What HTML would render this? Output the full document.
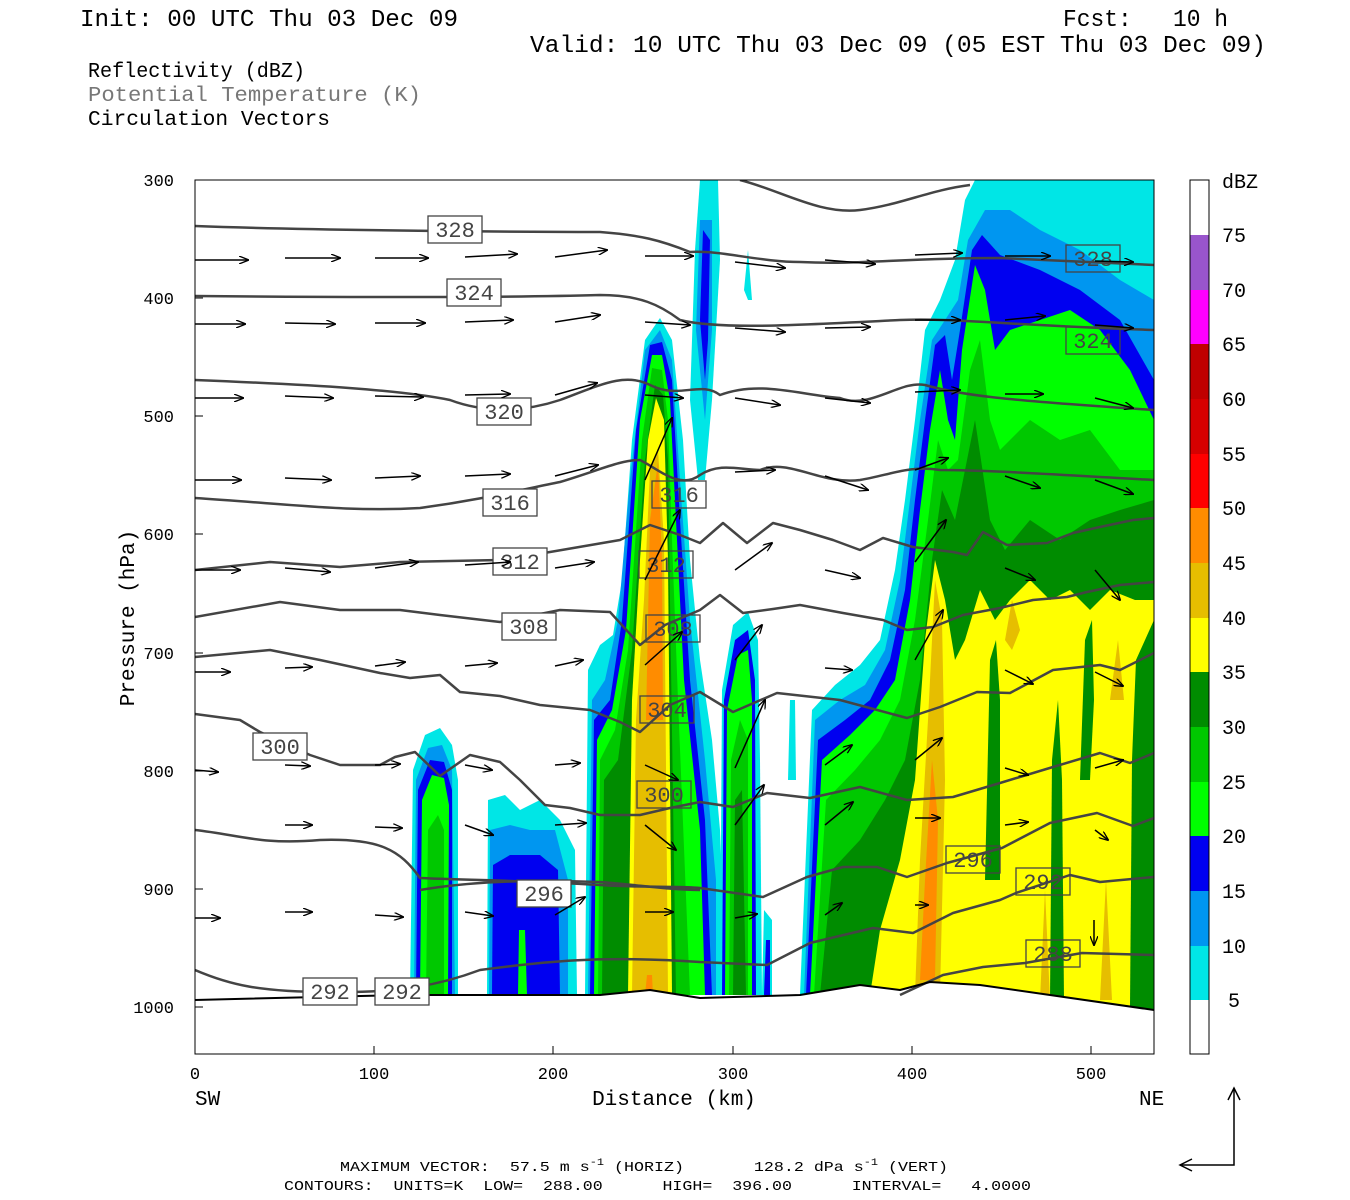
<!DOCTYPE html>
<html><head><meta charset="utf-8"><style>
html,body{margin:0;padding:0;background:#fff;}
svg{display:block;}
text{font-family:"Liberation Mono","DejaVu Sans Mono",monospace;white-space:pre;}
</style></head><body>
<svg width="1350" height="1200" viewBox="0 0 1350 1200" xmlns="http://www.w3.org/2000/svg" xml:space="preserve">
<defs>
<clipPath id="pc"><rect x="195" y="180" width="959" height="874"/></clipPath>
<marker id="ah" markerWidth="10" markerHeight="8" refX="9" refY="4" orient="auto" markerUnits="userSpaceOnUse"><path d="M0,0 L10,4 L0,8" fill="none" stroke="#000" stroke-width="1.3"/></marker>
</defs>
<!-- header -->
<text x="80" y="26" font-size="24" textLength="378" lengthAdjust="spacingAndGlyphs">Init: 00 UTC Thu 03 Dec 09</text>
<text x="1063" y="26" font-size="24" textLength="165" lengthAdjust="spacingAndGlyphs">Fcst:   10 h</text>
<text x="530" y="52" font-size="24" textLength="736" lengthAdjust="spacingAndGlyphs">Valid: 10 UTC Thu 03 Dec 09 (05 EST Thu 03 Dec 09)</text>
<text x="88" y="77" font-size="21" textLength="217" lengthAdjust="spacingAndGlyphs">Reflectivity (dBZ)</text>
<text x="88" y="101" font-size="21" fill="#777" textLength="333" lengthAdjust="spacingAndGlyphs">Potential Temperature (K)</text>
<text x="88" y="125" font-size="21" textLength="242" lengthAdjust="spacingAndGlyphs">Circulation Vectors</text>

<g clip-path="url(#pc)">
<!-- cell 1 -->
<path d="M410,995 L413,770 L425,735 L440,728 L452,745 L458,780 L458,995Z" fill="#00e6e6"/>
<path d="M414,995 L416,780 L428,748 L442,745 L452,770 L455,995Z" fill="#0096f0"/>
<path d="M416,995 L418,790 L430,760 L444,762 L452,790 L452,995Z" fill="#0000f0"/>
<path d="M420,995 L422,800 L432,775 L444,778 L449,805 L448,995Z" fill="#00ff00"/>
<path d="M426,995 L428,830 L438,815 L444,830 L444,995Z" fill="#00c800"/>
<!-- cell 2 -->
<path d="M487,995 L488,800 L505,795 L520,810 L540,800 L560,820 L575,850 L577,995Z" fill="#00e6e6"/>
<path d="M489,995 L490,830 L510,825 L530,830 L555,830 L568,880 L568,995Z" fill="#0096f0"/>
<path d="M492,995 L493,865 L510,855 L540,855 L558,870 L560,995Z" fill="#0000f0"/>
<path d="M518,995 L519,930 L525,930 L527,995Z" fill="#00ff00"/>
<!-- top narrow cell -->
<path d="M690,400 L695,250 L700,180 L718,180 L720,260 L712,400 L705,480 L698,480Z" fill="#00e6e6"/>
<path d="M696,330 L700,220 L712,220 L712,330 L705,420Z" fill="#0096f0"/>
<path d="M700,320 L703,230 L710,240 L708,340 L705,380Z" fill="#0000f0"/>
<path d="M744,290 L748,250 L752,300 L748,300Z" fill="#00e6e6"/>
<!-- main cell -->
<path d="M585,995 L588,670 L600,645 L613,635 L622,580 L632,440 L645,340 L660,318 L672,340 L683,440 L690,560 L700,660 L712,740 L720,830 L722,880 L722,995Z" fill="#00e6e6"/>
<path d="M588,995 L592,700 L605,680 L618,620 L630,480 L645,350 L660,330 L672,360 L680,480 L690,620 L705,760 L716,880 L716,995Z" fill="#0096f0"/>
<path d="M590,995 L594,720 L610,700 L622,620 L636,430 L650,345 L662,342 L672,380 L680,520 L690,680 L705,820 L712,995Z" fill="#0000f0"/>
<path d="M594,995 L597,740 L612,710 L626,630 L640,420 L652,355 L662,355 L670,400 L676,520 L684,680 L700,830 L705,995Z" fill="#00ff00"/>
<path d="M598,995 L600,760 L615,730 L628,650 L642,440 L652,368 L662,370 L668,420 L672,540 L678,700 L690,995Z" fill="#00c800"/>
<path d="M602,995 L604,780 L618,760 L632,650 L645,460 L655,385 L663,395 L668,460 L670,600 L676,995Z" fill="#008c00"/>
<path d="M628,995 L632,700 L640,560 L648,440 L656,398 L664,420 L668,560 L672,995Z" fill="#ffff00"/>
<path d="M632,995 L636,720 L644,600 L650,470 L658,450 L664,540 L668,995Z" fill="#e6be00"/>
<path d="M646,720 L650,520 L658,462 L662,560 L663,720Z" fill="#ff8c00"/>
<path d="M645,995 L647,975 L652,975 L653,995Z" fill="#ff8c00"/>
<!-- cell 4 -->
<path d="M720,995 L722,690 L733,625 L748,612 L758,640 L760,760 L762,995Z" fill="#00e6e6"/>
<path d="M722,995 L724,700 L735,640 L748,630 L755,680 L756,995Z" fill="#0000f0"/>
<path d="M725,995 L727,710 L738,655 L748,650 L752,700 L752,995Z" fill="#00ff00"/>
<path d="M729,995 L731,760 L740,720 L748,740 L748,995Z" fill="#00c800"/>
<path d="M733,995 L735,800 L742,790 L746,995Z" fill="#008c00"/>
<path d="M762,995 L764,910 L772,920 L772,995Z" fill="#00e6e6"/>
<path d="M764,995 L766,940 L770,940 L770,995Z" fill="#0000f0"/>
<path d="M788,780 L790,700 L795,700 L796,780Z" fill="#00e6e6"/>
<!-- right region -->
<path d="M800,995 L812,710 L835,685 L860,665 L880,640 L895,570 L905,500 L915,420 L925,330 L940,300 L955,260 L965,200 L975,180 L1154,180 L1154,1010Z" fill="#00e6e6"/>
<path d="M804,995 L815,720 L840,700 L865,685 L885,650 L900,580 L910,500 L920,420 L932,340 L945,320 L958,300 L968,240 L985,210 L1010,210 L1040,230 L1080,250 L1120,280 L1154,300 L1154,1010Z" fill="#0096f0"/>
<path d="M806,995 L818,740 L845,720 L870,700 L890,660 L905,590 L915,500 L925,420 L935,345 L945,335 L952,380 L960,330 L972,250 L982,235 L1000,255 L1040,270 L1080,290 L1120,320 L1154,380 L1154,1010Z" fill="#0000f0"/>
<path d="M810,995 L822,760 L850,735 L875,710 L895,680 L910,600 L920,510 L930,430 L940,370 L948,420 L955,440 L962,350 L975,265 L985,290 L995,350 L1010,330 L1040,320 L1070,310 L1100,330 L1130,370 L1154,420 L1154,1010Z" fill="#00ff00"/>
<path d="M814,995 L826,800 L855,770 L880,740 L900,700 L915,620 L928,520 L938,440 L948,470 L958,460 L970,370 L980,340 L990,420 L1000,450 L1030,420 L1060,440 L1090,430 L1120,470 L1154,470 L1154,1010Z" fill="#00c800"/>
<path d="M820,995 L832,870 L860,840 L885,800 L905,760 L920,680 L932,560 L942,490 L955,520 L965,470 L975,420 L990,520 L1005,550 L1030,520 L1060,540 L1090,520 L1120,510 L1154,500 L1154,1010Z" fill="#008c00"/>
<path d="M870,995 L880,930 L900,860 L915,780 L925,640 L935,560 L945,600 L955,660 L965,640 L980,590 L995,620 L1010,600 L1030,580 L1050,600 L1070,590 L1090,610 L1110,590 L1135,600 L1154,600 L1154,1010Z" fill="#ffff00"/>
<path d="M1130,1007 L1132,760 L1136,660 L1154,620 L1154,1010Z" fill="#008c00"/>
<path d="M1050,1000 L1052,760 L1058,700 L1062,780 L1064,1000Z" fill="#008c00"/>
<path d="M985,880 L990,660 L996,640 L1000,700 L1000,880Z" fill="#008c00"/>
<path d="M1080,780 L1085,640 L1092,620 L1094,700 L1090,780Z" fill="#008c00"/>
<path d="M915,995 L920,860 L928,720 L935,580 L942,620 L945,780 L940,995Z" fill="#e6be00"/>
<path d="M920,980 L925,880 L932,760 L938,820 L935,980Z" fill="#ff8c00"/>
<path d="M1040,1000 L1045,890 L1050,1000Z M1100,1000 L1106,880 L1112,1000Z M1005,640 L1012,600 L1020,630 L1012,650Z M1110,700 L1118,640 L1124,700Z" fill="#e6be00"/>
<!-- ground mask -->
<path d="M195,1000 L400,995 L600,995 L650,990 L700,998 L800,995 L860,985 L900,990 L930,982 L980,985 L1050,995 L1154,1010 L1154,1054 L195,1054Z" fill="#fff"/>
</g>

<!-- contours -->
<g fill="none" stroke="#444" stroke-width="2.5" stroke-linejoin="round" clip-path="url(#pc)">
<path d="M195,226 C300,230 500,232 600,232 C640,235 660,240 690,252 C720,250 760,262 800,262 C860,265 900,258 1000,258 C1080,262 1154,265 1154,265"/>
<path d="M740,180 C780,190 820,215 860,210 C900,205 930,190 970,185"/>
<path d="M195,296 C300,297 500,298 600,295 C640,295 660,305 680,320 C720,330 800,325 900,320 C960,318 1000,325 1154,330"/>
<path d="M195,380 C320,385 400,390 450,400 C490,415 530,410 560,400 C600,385 625,372 650,385 C680,400 700,380 720,395 C760,380 800,395 840,398 C870,410 900,380 925,385 C960,395 1000,400 1154,410"/>
<path d="M195,498 C300,505 350,512 420,508 C480,500 520,490 560,482 C600,470 620,460 640,460 C660,470 680,490 700,475 C720,462 740,470 760,470 C790,458 820,485 860,480 C890,475 910,465 940,470 C990,470 1060,475 1154,480"/>
<path d="M195,570 L270,562 L340,567 L400,562 L500,560 L550,552 L620,540 L650,525 L680,535 L700,543 L723,523 L747,543 L773,523 L800,530 L833,540 L860,550 L883,538 L913,547 L953,552 L967,555 L983,532 L1007,545 L1047,543 L1073,533 L1100,527 L1133,520 L1154,518"/>
<path d="M195,617 L280,602 L340,610 L400,610 L440,615 L500,622 L560,610 L610,612 L640,645 L665,625 L700,610 L720,595 L743,613 L773,609 L800,605 L843,613 L883,620 L907,630 L933,627 L963,615 L1000,608 L1033,600 L1067,597 L1087,592 L1120,585 L1154,582"/>
<path d="M195,657 L270,650 L320,660 L380,673 L410,678 L440,675 L460,692 L500,696 L540,705 L590,710 L620,722 L640,732 L670,705 L700,692 L733,712 L777,693 L840,700 L907,718 L940,707 L977,692 L1010,693 L1053,670 L1100,665 L1120,670 L1154,653"/>
<path d="M195,714 L240,720 L260,732 L310,755 L340,765 L380,765 L395,757 L415,752 L440,776 L470,755 L500,762 L520,780 L545,805 L570,808 L600,815 L640,815 L670,808 L700,802 L733,807 L767,793 L810,798 L860,787 L907,800 L953,797 L1000,783 L1053,767 L1100,753 L1130,763 L1154,753"/>
<path d="M195,830 C240,835 260,845 320,840 C380,838 400,850 420,878 C460,880 520,880 600,885 C650,888 680,886 700,888 L763,897 L807,877 L843,867 L877,867 L907,877 L947,863 L1002,848 L1050,823 L1097,813 L1133,826 L1154,818"/>
<path d="M195,970 C230,985 260,992 330,992 C400,993 440,985 480,970 C540,962 600,955 700,962 L767,965 L810,943 L873,928 L913,933 L953,913 L1000,900 L1016,893 L1070,875 L1100,882 L1154,877"/>
<path d="M420,890 C480,880 540,880 600,882 C640,885 670,890 700,890"/>
<path d="M900,995 L943,975 L983,967 L1025,963 L1082,953 L1154,955"/>
<path d="M195,1000 L400,995 L600,995 L650,990 L700,998 L800,995 L860,985 L900,990 L930,982 L980,985 L1050,995 L1154,1010" stroke="#000" stroke-width="2"/>
</g>

<!-- contour labels -->
<g font-size="22" fill="#444" text-anchor="middle">
<g fill="#fff" stroke="#444" stroke-width="1.3">
<rect x="428" y="216" width="54" height="27"/><rect x="447" y="279" width="54" height="27"/>
<rect x="477" y="398" width="54" height="27"/><rect x="483" y="489" width="54" height="27"/>
<rect x="493" y="548" width="54" height="27"/><rect x="502" y="613" width="54" height="27"/>
<rect x="253" y="733" width="54" height="27"/><rect x="517" y="880" width="54" height="27"/>
<rect x="303" y="978" width="54" height="27"/><rect x="375" y="978" width="54" height="27"/>
<rect x="1066" y="245" width="54" height="27" fill="none"/><rect x="1066" y="327" width="54" height="27" fill="none"/>
<rect x="652" y="481" width="54" height="27" fill="none"/><rect x="639" y="551" width="54" height="27" fill="none"/>
<rect x="646" y="615" width="54" height="27" fill="none"/><rect x="640" y="696" width="54" height="27" fill="none"/>
<rect x="637" y="781" width="54" height="27" fill="none"/><rect x="946" y="846" width="54" height="27" fill="none"/>
<rect x="1016" y="868" width="54" height="27" fill="none"/><rect x="1026" y="940" width="54" height="27" fill="none"/>
</g>
<text x="455" y="237">328</text><text x="474" y="300">324</text><text x="504" y="419">320</text>
<text x="510" y="510">316</text><text x="520" y="569">312</text><text x="529" y="634">308</text>
<text x="280" y="754">300</text><text x="544" y="901">296</text><text x="330" y="999">292</text>
<text x="402" y="999">292</text><text x="1093" y="266">328</text><text x="1093" y="348">324</text>
<text x="679" y="502">316</text><text x="666" y="572">312</text><text x="673" y="636">308</text>
<text x="667" y="717">304</text><text x="664" y="802">300</text><text x="973" y="867">296</text>
<text x="1043" y="889">292</text><text x="1053" y="961">288</text>
</g>

<!-- vectors -->
<g stroke="#000" stroke-width="1.5" marker-end="url(#ah)">
<line x1="195" y1="260" x2="248" y2="260"/><line x1="285" y1="258" x2="340" y2="258"/><line x1="375" y1="258" x2="428" y2="258"/><line x1="465" y1="257" x2="517" y2="254"/><line x1="555" y1="257" x2="607" y2="250"/><line x1="645" y1="256" x2="693" y2="256"/><line x1="735" y1="262" x2="785" y2="268"/><line x1="825" y1="260" x2="875" y2="264"/><line x1="915" y1="255" x2="962" y2="253"/><line x1="1005" y1="256" x2="1050" y2="256"/><line x1="1095" y1="261" x2="1133" y2="262"/>
<line x1="195" y1="324" x2="245" y2="324"/><line x1="285" y1="323" x2="335" y2="324"/><line x1="375" y1="323" x2="425" y2="323"/><line x1="465" y1="322" x2="513" y2="320"/><line x1="555" y1="322" x2="600" y2="315"/><line x1="645" y1="322" x2="690" y2="325"/><line x1="735" y1="328" x2="785" y2="332"/><line x1="825" y1="328" x2="870" y2="327"/><line x1="915" y1="320" x2="960" y2="320"/><line x1="1005" y1="320" x2="1045" y2="316"/><line x1="1095" y1="325" x2="1133" y2="328"/>
<line x1="195" y1="398" x2="243" y2="398"/><line x1="285" y1="396" x2="333" y2="398"/><line x1="375" y1="396" x2="423" y2="397"/><line x1="465" y1="395" x2="510" y2="394"/><line x1="555" y1="395" x2="597" y2="383"/><line x1="645" y1="395" x2="683" y2="398"/><line x1="735" y1="398" x2="780" y2="405"/><line x1="825" y1="398" x2="870" y2="403"/><line x1="915" y1="392" x2="960" y2="390"/><line x1="1005" y1="394" x2="1043" y2="394"/><line x1="1095" y1="398" x2="1133" y2="408"/>
<line x1="195" y1="480" x2="241" y2="480"/><line x1="285" y1="478" x2="331" y2="480"/><line x1="375" y1="478" x2="420" y2="476"/><line x1="465" y1="476" x2="510" y2="474"/><line x1="555" y1="476" x2="598" y2="465"/><line x1="645" y1="480" x2="672" y2="418"/><line x1="735" y1="472" x2="775" y2="470"/><line x1="825" y1="476" x2="868" y2="490"/><line x1="915" y1="470" x2="948" y2="458"/><line x1="1005" y1="476" x2="1040" y2="488"/><line x1="1095" y1="480" x2="1133" y2="494"/>
<line x1="195" y1="570" x2="240" y2="570"/><line x1="285" y1="568" x2="330" y2="572"/><line x1="375" y1="568" x2="418" y2="562"/><line x1="465" y1="565" x2="510" y2="562"/><line x1="555" y1="568" x2="594" y2="562"/><line x1="645" y1="580" x2="680" y2="510"/><line x1="735" y1="570" x2="772" y2="543"/><line x1="825" y1="570" x2="860" y2="578"/><line x1="915" y1="562" x2="946" y2="520"/><line x1="1005" y1="568" x2="1035" y2="580"/><line x1="1095" y1="570" x2="1120" y2="600"/>
<line x1="195" y1="672" x2="230" y2="672"/><line x1="285" y1="668" x2="312" y2="667"/><line x1="375" y1="666" x2="405" y2="662"/><line x1="465" y1="666" x2="497" y2="663"/><line x1="555" y1="666" x2="583" y2="660"/><line x1="645" y1="665" x2="682" y2="632"/><line x1="735" y1="660" x2="762" y2="625"/><line x1="825" y1="668" x2="852" y2="670"/><line x1="915" y1="660" x2="943" y2="610"/><line x1="1005" y1="670" x2="1033" y2="684"/><line x1="1095" y1="672" x2="1123" y2="686"/>
<line x1="195" y1="770" x2="218" y2="772"/><line x1="285" y1="765" x2="310" y2="766"/><line x1="375" y1="765" x2="400" y2="764"/><line x1="465" y1="765" x2="492" y2="770"/><line x1="555" y1="765" x2="580" y2="763"/><line x1="645" y1="765" x2="678" y2="780"/><line x1="735" y1="768" x2="765" y2="700"/><line x1="825" y1="765" x2="852" y2="745"/><line x1="915" y1="760" x2="942" y2="738"/><line x1="1005" y1="768" x2="1028" y2="775"/><line x1="1095" y1="768" x2="1123" y2="760"/>
<line x1="285" y1="825" x2="312" y2="825"/><line x1="375" y1="827" x2="402" y2="828"/><line x1="465" y1="825" x2="493" y2="835"/><line x1="555" y1="825" x2="586" y2="823"/><line x1="645" y1="825" x2="676" y2="850"/><line x1="735" y1="825" x2="764" y2="785"/><line x1="825" y1="825" x2="853" y2="802"/><line x1="915" y1="818" x2="940" y2="818"/><line x1="1005" y1="825" x2="1028" y2="822"/><line x1="1095" y1="830" x2="1108" y2="840"/>
<line x1="195" y1="918" x2="220" y2="918"/><line x1="285" y1="912" x2="312" y2="912"/><line x1="375" y1="915" x2="403" y2="917"/><line x1="465" y1="912" x2="493" y2="916"/><line x1="555" y1="915" x2="585" y2="897"/><line x1="645" y1="912" x2="673" y2="912"/><line x1="735" y1="918" x2="757" y2="914"/><line x1="825" y1="915" x2="842" y2="903"/><line x1="915" y1="905" x2="928" y2="905"/><line x1="1094" y1="920" x2="1094" y2="945"/>
</g>

<!-- axes -->
<rect x="195" y="180" width="959" height="874" fill="none" stroke="#000" stroke-width="1"/>
<g stroke="#000" stroke-width="1">
<line x1="195" y1="298" x2="203" y2="298"/><line x1="195" y1="416" x2="203" y2="416"/><line x1="195" y1="534" x2="203" y2="534"/><line x1="195" y1="653" x2="203" y2="653"/><line x1="195" y1="771" x2="203" y2="771"/><line x1="195" y1="889" x2="203" y2="889"/><line x1="195" y1="1007" x2="203" y2="1007"/>
<line x1="374" y1="1054" x2="374" y2="1046"/><line x1="553" y1="1054" x2="553" y2="1046"/><line x1="733" y1="1054" x2="733" y2="1046"/><line x1="912" y1="1054" x2="912" y2="1046"/><line x1="1091" y1="1054" x2="1091" y2="1046"/>
</g>
<g font-size="17" text-anchor="end">
<text x="174" y="186">300</text><text x="174" y="304">400</text><text x="174" y="422">500</text><text x="174" y="540">600</text><text x="174" y="659">700</text><text x="174" y="777">800</text><text x="174" y="895">900</text><text x="174" y="1013">1000</text>
</g>
<g font-size="17" text-anchor="middle">
<text x="195" y="1079">0</text><text x="374" y="1079">100</text><text x="553" y="1079">200</text><text x="733" y="1079">300</text><text x="912" y="1079">400</text><text x="1091" y="1079">500</text>
</g>
<text x="195" y="1105" font-size="21">SW</text>
<text x="1139" y="1105" font-size="21">NE</text>
<text x="674" y="1105" font-size="21" text-anchor="middle">Distance (km)</text>
<text transform="translate(134,618) rotate(-90)" font-size="21" text-anchor="middle">Pressure (hPa)</text>

<!-- colorbar -->
<g stroke="none">
<rect x="1190" y="180" width="19" height="55" fill="#fff"/>
<rect x="1190" y="235" width="19" height="55" fill="#9955cc"/>
<rect x="1190" y="290" width="19" height="54" fill="#ff00ff"/>
<rect x="1190" y="344" width="19" height="55" fill="#c00000"/>
<rect x="1190" y="399" width="19" height="55" fill="#d60000"/>
<rect x="1190" y="454" width="19" height="54" fill="#ff0000"/>
<rect x="1190" y="508" width="19" height="55" fill="#ff8c00"/>
<rect x="1190" y="563" width="19" height="55" fill="#e6be00"/>
<rect x="1190" y="618" width="19" height="54" fill="#ffff00"/>
<rect x="1190" y="672" width="19" height="55" fill="#008c00"/>
<rect x="1190" y="727" width="19" height="55" fill="#00c800"/>
<rect x="1190" y="782" width="19" height="54" fill="#00ff00"/>
<rect x="1190" y="836" width="19" height="55" fill="#0000f0"/>
<rect x="1190" y="891" width="19" height="55" fill="#0096f0"/>
<rect x="1190" y="946" width="19" height="54" fill="#00e6e6"/>
</g>
<rect x="1190" y="180" width="19" height="874" fill="none" stroke="#000"/>
<g font-size="20">
<text x="1222" y="188">dBZ</text>
<text x="1222" y="242">75</text><text x="1222" y="297">70</text><text x="1222" y="351">65</text><text x="1222" y="406">60</text><text x="1222" y="461">55</text><text x="1222" y="515">50</text><text x="1222" y="570">45</text><text x="1222" y="625">40</text><text x="1222" y="679">35</text><text x="1222" y="734">30</text><text x="1222" y="789">25</text><text x="1222" y="843">20</text><text x="1222" y="898">15</text><text x="1222" y="953">10</text><text x="1228" y="1007">5</text>
</g>

<!-- reference vector -->
<g stroke="#000" stroke-width="1.5" fill="none">
<polyline points="1180,1165 1234,1165 1234,1088"/>
<polyline points="1192,1159 1180,1165 1192,1171"/>
<polyline points="1228,1100 1234,1088 1240,1100"/>
</g>
<text x="340" y="1171" font-size="14" textLength="608" lengthAdjust="spacingAndGlyphs">MAXIMUM VECTOR:  57.5 m s<tspan dy="-6" font-size="10">-1</tspan><tspan dy="6"> (HORIZ)       128.2 dPa s</tspan><tspan dy="-6" font-size="10">-1</tspan><tspan dy="6"> (VERT)</tspan></text>
<text x="284" y="1190" font-size="14" textLength="747" lengthAdjust="spacingAndGlyphs">CONTOURS:  UNITS=K  LOW=  288.00      HIGH=  396.00      INTERVAL=   4.0000</text>
</svg>
</body></html>
